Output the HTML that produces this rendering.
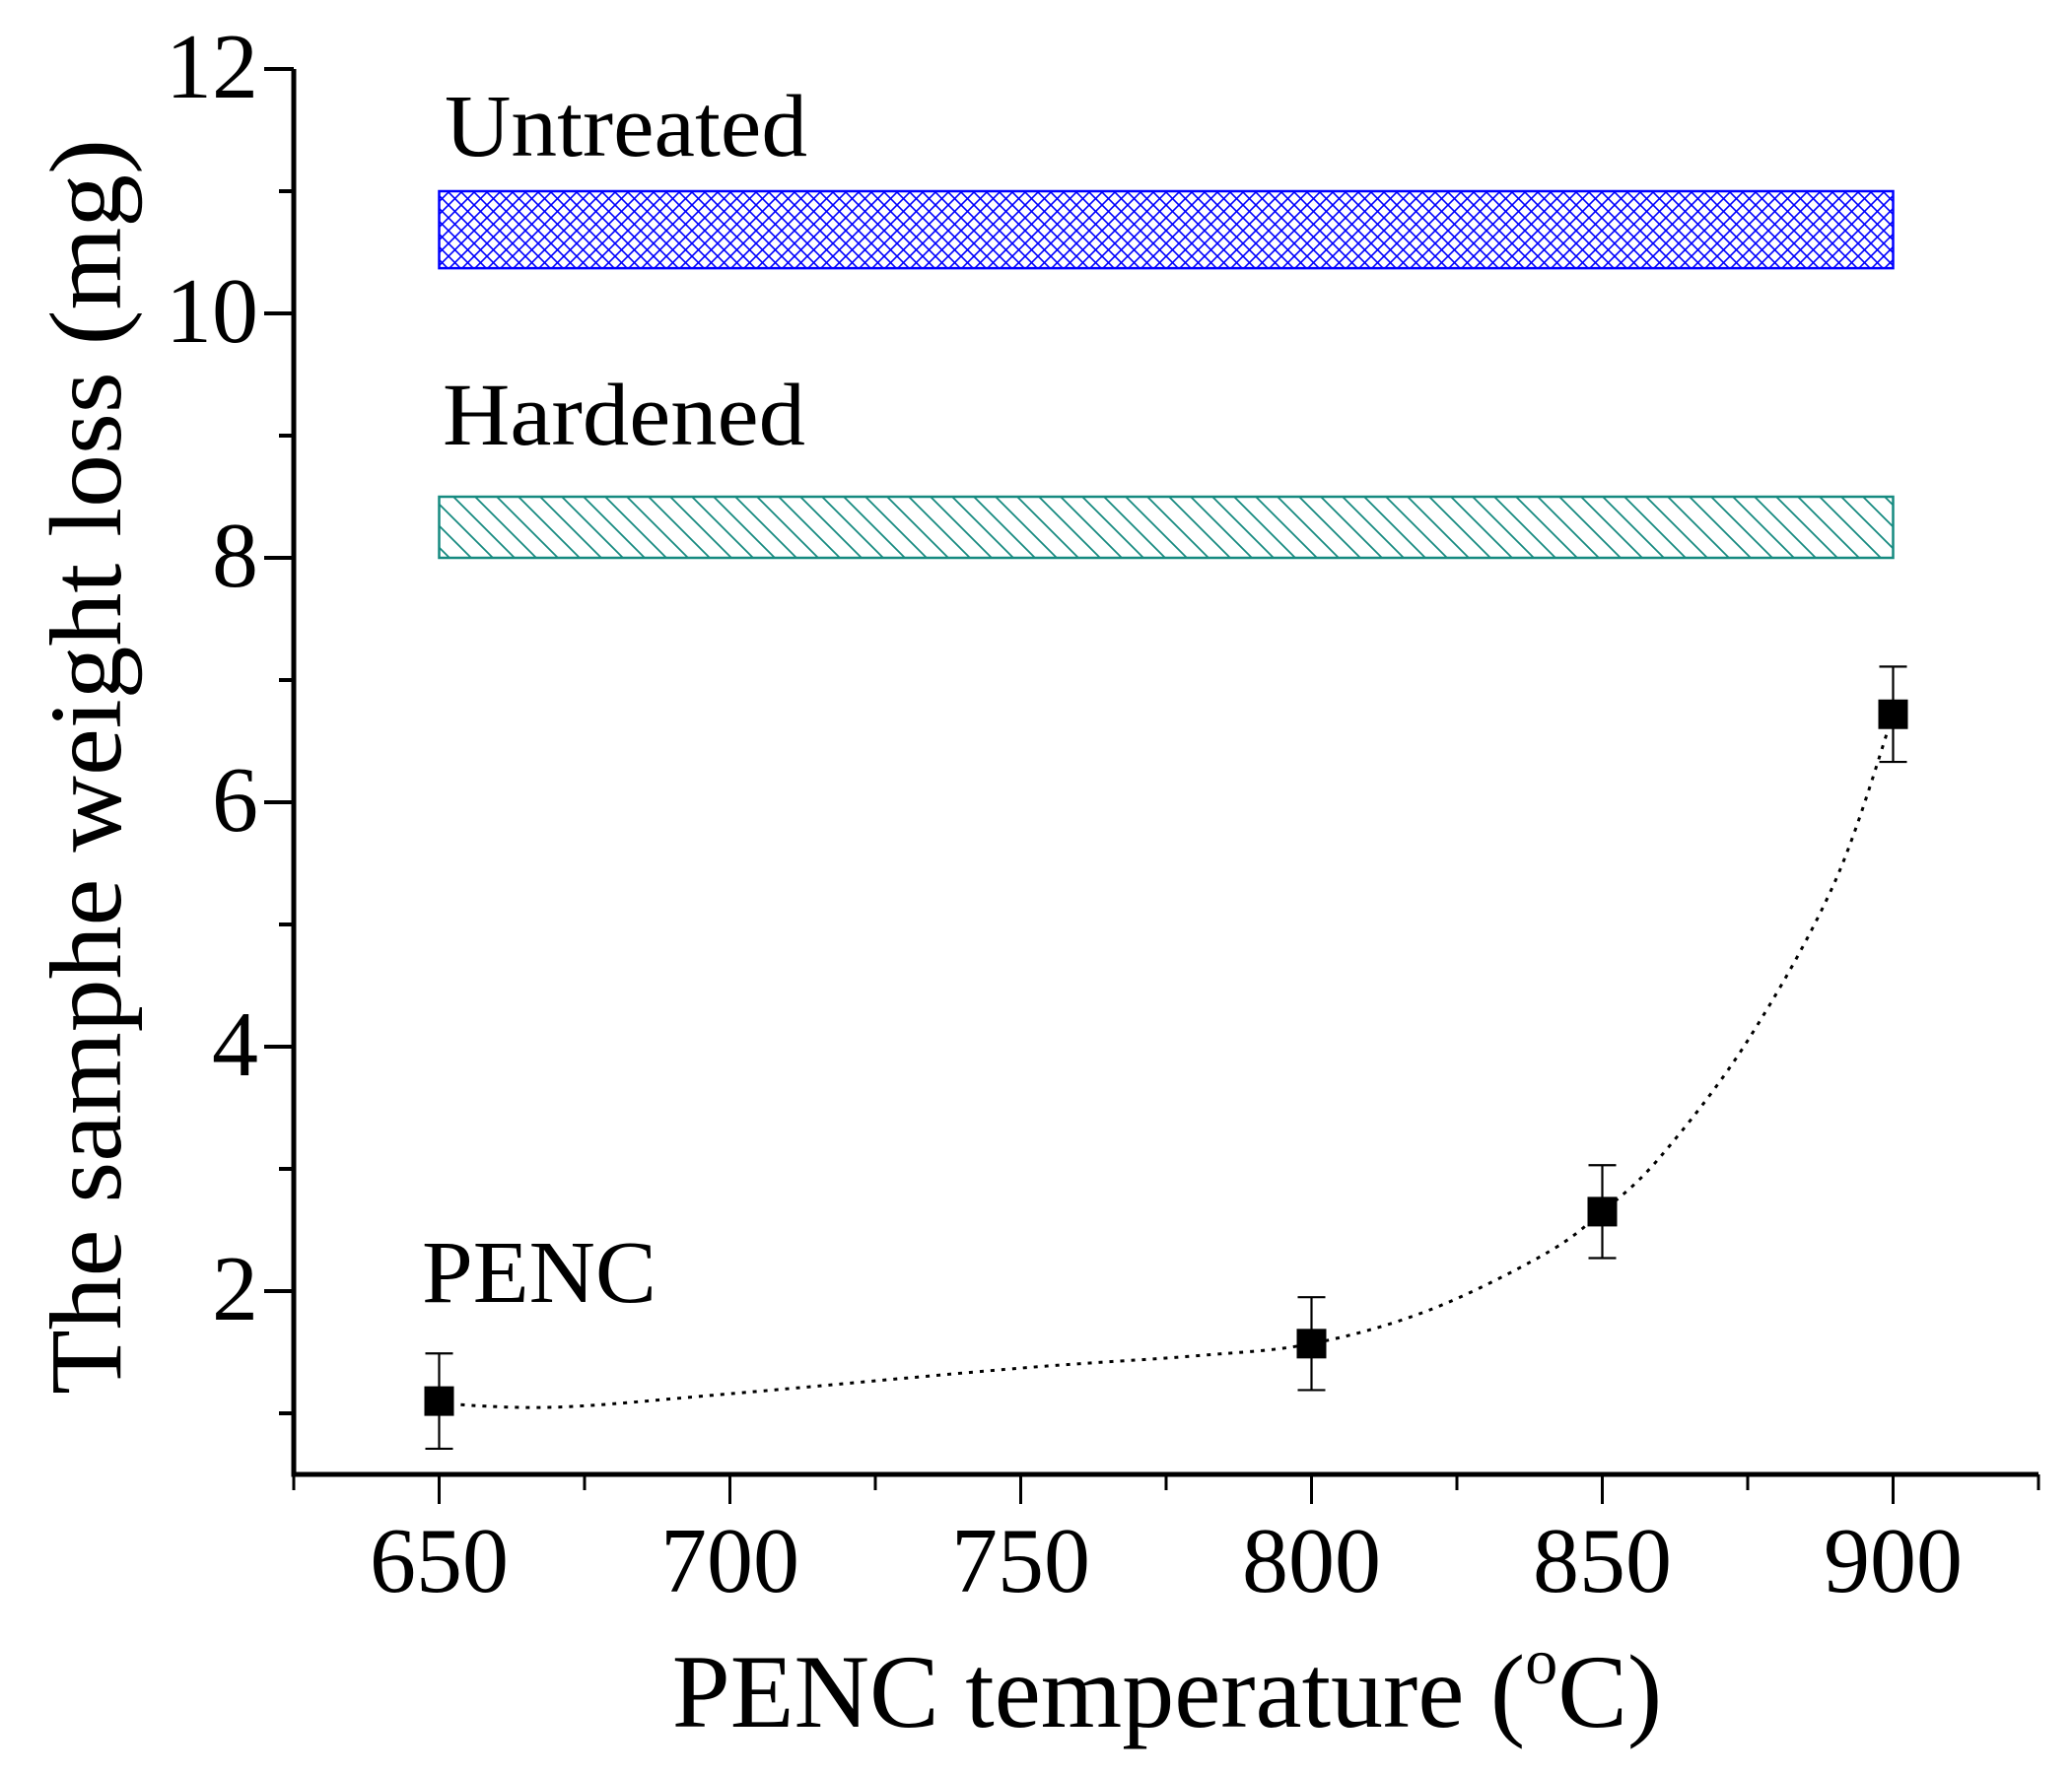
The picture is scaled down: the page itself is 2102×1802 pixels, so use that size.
<!DOCTYPE html>
<html><head><meta charset="utf-8"><style>
html,body{margin:0;padding:0;background:#fff}
svg{display:block}
text{font-family:"Liberation Serif",serif;fill:#000}
</style></head><body>
<svg id="chart" width="2102" height="1802" viewBox="0 0 2102 1802" xmlns="http://www.w3.org/2000/svg">
<defs>
<pattern id="cross" patternUnits="userSpaceOnUse" width="13" height="13">
<path d="M0,0 L13,13 M13,0 L0,13" stroke="#0000ff" stroke-width="1.6"/>
</pattern>
<pattern id="diag" patternUnits="userSpaceOnUse" width="22" height="22">
<path d="M0,0 L22,22 M-11,11 L11,33 M11,-11 L33,11" stroke="#168a80" stroke-width="1.8"/>
</pattern>
</defs>
<g id="plot"></g>
</svg>
<script>
const xTicks = [650, 700, 750, 800, 850, 900];
const yTicks = [2, 4, 6, 8, 10, 12];
const yTickLabels = ['2', '4', '6', '8', '10', '12'];
const tempValues = [650, 800, 850, 900];
const lossValues = [1.1, 1.57, 2.65, 6.72];
const lossErrors = [0.39, 0.38, 0.38, 0.39];
const fitX = [650, 670, 700, 750, 780, 800, 820, 840, 850, 860, 875, 890, 900];
const fitY = [1.08, 1.05, 1.16, 1.37, 1.47, 1.57, 1.84, 2.3, 2.65, 3.1, 4.05, 5.35, 6.72];
const untreatedBand = [10.37, 11.0];
const hardenedBand = [8.0, 8.5];
const bandRange = [650, 900];

const X0 = 298, X1 = 2068, xMin = 625, xMax = 925;
const Y12 = 70, perUnit = 124.0, AXY = 1496;
function sx(v){ return X0 + (v - xMin) / (xMax - xMin) * (X1 - X0); }
function sy(v){ return Y12 + (12 - v) * perUnit; }
const NS = 'http://www.w3.org/2000/svg';
const g = document.getElementById('plot');
function mk(tag, attrs, parent){
  const e = document.createElementNS(NS, tag);
  for (const k in attrs) e.setAttribute(k, attrs[k]);
  (parent || g).appendChild(e);
  return e;
}

let b = mk('rect', {x: sx(bandRange[0]), y: sy(untreatedBand[1]), width: sx(bandRange[1]) - sx(bandRange[0]), height: sy(untreatedBand[0]) - sy(untreatedBand[1]), fill: 'url(#cross)', stroke: '#0000ff', 'stroke-width': 2.5});


b = mk('rect', {x: sx(bandRange[0]), y: sy(hardenedBand[1]), width: sx(bandRange[1]) - sx(bandRange[0]), height: sy(hardenedBand[0]) - sy(hardenedBand[1]), fill: 'url(#diag)', stroke: '#168a80', 'stroke-width': 2.5});



let ax = mk('path', {d: `M${X0},${Y12} V${AXY} H${X1}`, fill: 'none', stroke: '#000', 'stroke-width': 5});



for (let v = 1; v <= 12; v++) {
  const major = v % 2 === 0;
  const t = mk('line', {x1: X0, x2: X0 - (major ? 30 : 15), y1: sy(v), y2: sy(v), stroke: '#000', 'stroke-width': 4});
  
  
}
yTicks.forEach((v, i) => {
  const t = mk('text', {x: 262, y: sy(v) + 29, 'text-anchor': 'end', 'font-size': 94});
  t.textContent = yTickLabels[i];
  
  
});
for (let v = 625; v <= 925; v += 25) {
  const major = v % 50 === 0;
  const t = mk('line', {x1: sx(v), x2: sx(v), y1: AXY, y2: AXY + (major ? 30 : 16), stroke: '#000', 'stroke-width': 3});
  
  
}
xTicks.forEach(v => {
  const t = mk('text', {x: sx(v), y: 1615, 'text-anchor': 'middle', 'font-size': 94});
  t.textContent = String(v);
  
  
});

const pts = fitX.map((v, i) => [sx(v), sy(fitY[i])]);
let d = `M${pts[0][0]},${pts[0][1]}`;
for (let i = 0; i < pts.length - 1; i++) {
  const p0 = pts[Math.max(0, i - 1)], p1 = pts[i], p2 = pts[i + 1], p3 = pts[Math.min(pts.length - 1, i + 2)];
  const c1 = [p1[0] + (p2[0] - p0[0]) / 6, p1[1] + (p2[1] - p0[1]) / 6];
  const c2 = [p2[0] - (p3[0] - p1[0]) / 6, p2[1] - (p3[1] - p1[1]) / 6];
  d += ` C${c1[0]},${c1[1]} ${c2[0]},${c2[1]} ${p2[0]},${p2[1]}`;
}
const fc = mk('path', {d, fill: 'none', stroke: '#000', 'stroke-width': 3, 'stroke-dasharray': '4 7'});



tempValues.forEach((v, i) => {
  const x = sx(v), y = sy(lossValues[i]), e = lossErrors[i];
  const eb = mk('path', {d: `M${x},${sy(lossValues[i] + e)} V${sy(lossValues[i] - e)} M${x - 14},${sy(lossValues[i] + e)} H${x + 14} M${x - 14},${sy(lossValues[i] - e)} H${x + 14}`, stroke: '#000', 'stroke-width': 2.2, fill: 'none'});
  
  
  const m = mk('rect', {x: x - 15, y: y - 15, width: 30, height: 30, fill: '#000'});
  
  
});

function label(txt, x, y, size, len, name, extra){
  const t = mk('text', Object.assign({x, y, 'font-size': size, textLength: len, lengthAdjust: 'spacingAndGlyphs'}, extra || {}));
  t.textContent = txt;
  
  
  return t;
}
label('Untreated', 451, 158, 90, 368, 'untreated-label');
label('Hardened', 449, 451, 90, 368, 'hardened-label');
label('PENC', 428, 1321, 90, 238, 'penc-label');
const xt = mk('text', {x: 1184, y: 1752, 'text-anchor': 'middle', 'font-size': 106});


xt.innerHTML = 'PENC temperature (<tspan font-size="66" dy="-44">o</tspan><tspan dy="44">C)</tspan>';
label('The samphe weight loss (mg)', 0, 0, 104, 1274, 'y-axis-title', {transform: 'translate(122,1415) rotate(-90)'});
</script>
</body></html>
